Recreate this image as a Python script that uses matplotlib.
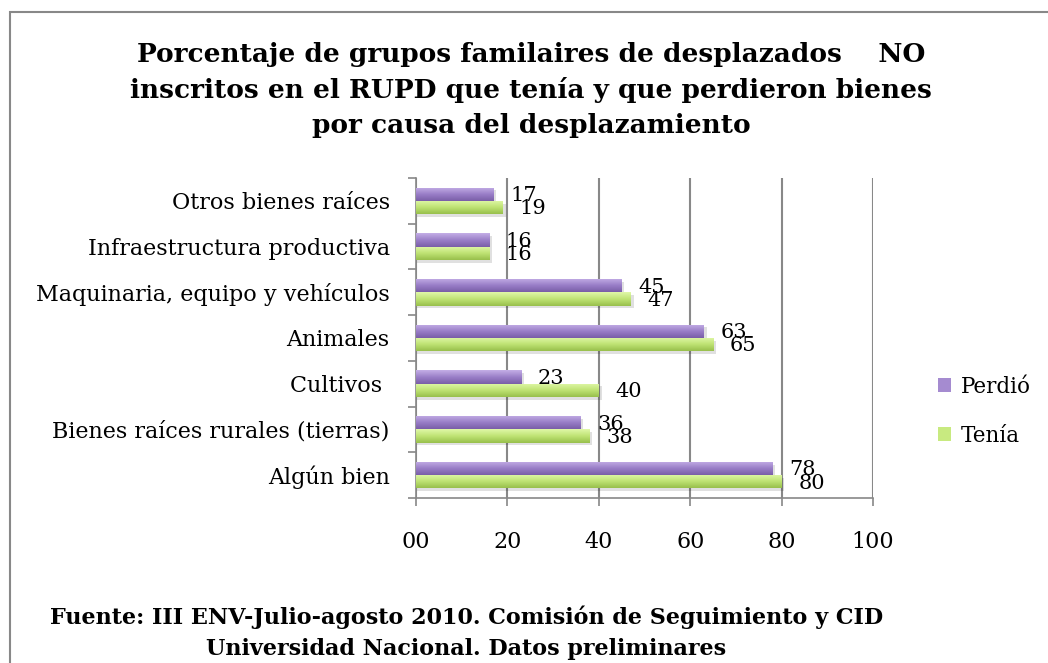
import numpy as np
import matplotlib
matplotlib.use("Agg")
from matplotlib import pyplot as plt
from matplotlib.colors import LinearSegmentedColormap
from matplotlib.patches import Rectangle

# data
categorias = ['Otros bienes raíces', 'Infraestructura productiva',
              'Maquinaria, equipo y vehículos', 'Animales', 'Cultivos ',
              'Bienes raíces rurales (tierras)', 'Algún bien']
perdio = [17, 16, 45, 63, 23, 36, 78]
tenia = [19, 16, 47, 65, 40, 38, 80]
xticks = [0, 20, 40, 60, 80, 100]
xtick_labels = ['00', '20', '40', '60', '80', '100']

titulo = ('Porcentaje de grupos familaires de desplazados    NO\n'
          'inscritos en el RUPD que tenía y que perdieron bienes\n'
          'por causa del desplazamiento')
fuente = ('Fuente: III ENV-Julio-agosto 2010. Comisión de Seguimiento y CID\n'
          'Universidad Nacional. Datos preliminares')

plt.rcParams['font.family'] = ['DejaVu Serif']

cm_perdio = LinearSegmentedColormap.from_list('p', ['#c4aee6', '#9a7fc8', '#7a5ea8'])
cm_tenia = LinearSegmentedColormap.from_list('t', ['#e0f8a8', '#bfe374', '#98c04c'])

fig = plt.figure(figsize=(10.48, 6.63), dpi=100)
ax = fig.add_axes([0.397, 0.249, 0.436, 0.4825])

y = np.arange(len(categorias))
h = 0.29
off = 0.145
grad = np.linspace(0, 1, 50).reshape(-1, 1)


def barras(vals, yc, cmap, color):
    for v, c in zip(vals, yc):
        # shadow
        ax.add_patch(Rectangle((0, c - h / 2 + 0.06), v + 0.6, h, color='#000000',
                               alpha=0.12, lw=0, zorder=2))
        r = Rectangle((0, c - h / 2), v, h, facecolor=color, lw=0, zorder=3)
        ax.add_patch(r)
        im = ax.imshow(grad, cmap=cmap, aspect='auto',
                       extent=(0, v, c + h / 2, c - h / 2), zorder=3.5)
        im.set_clip_path(r)


barras(perdio, y - off, cm_perdio, '#9a7fc8')
barras(tenia, y + off, cm_tenia, '#bfe374')

for v, c in zip(perdio, y - off):
    ax.annotate(str(v), (v, c), xytext=(12, -1), textcoords='offset points',
                ha='left', va='center', fontsize=15, zorder=5)
for v, c in zip(tenia, y + off):
    ax.annotate(str(v), (v, c), xytext=(12, -1), textcoords='offset points',
                ha='left', va='center', fontsize=15, zorder=5)

ax.set_xlim(0, 100)
ax.set_ylim(len(categorias) - 0.5, -0.5)
ax.set_xticks(xticks)
ax.set_xticklabels(xtick_labels, fontsize=16)
ax.set_yticks(y)
ax.set_yticklabels(categorias, fontsize=16)
ax.set_yticks(np.arange(len(categorias) + 1) - 0.5, minor=True)
ax.tick_params(axis='y', which='major', length=0, pad=19)
ax.tick_params(axis='y', which='minor', length=6, color='#888888', width=1.2)
ax.tick_params(axis='x', length=6, color='#888888', width=1.2, pad=18)
ax.grid(axis='x', color='#888888', lw=1.5, zorder=1)
ax.set_axisbelow(True)
for s in ['top', 'right']:
    ax.spines[s].set_visible(False)
ax.spines['left'].set_color('#888888')
ax.spines['bottom'].set_color('#888888')
ax.spines['left'].set_linewidth(1.2)
ax.spines['bottom'].set_linewidth(1.2)

# legend
hp = Rectangle((0, 0), 1, 1, facecolor='#a58bd0')
ht = Rectangle((0, 0), 1, 1, facecolor='#c8ea80')
fig.legend([hp, ht], ['Perdió', 'Tenía'], loc='center left',
           bbox_to_anchor=(0.877, 0.38), frameon=False, fontsize=15.5,
           handlelength=0.6, handleheight=0.6, handletextpad=0.45, labelspacing=1.25)

fig.text(0.507, 0.864, titulo, ha='center', va='center', fontsize=19,
         fontweight='bold', linespacing=1.5)
fig.text(0.445, 0.046, fuente, ha='center', va='center', fontsize=16,
         fontweight='bold', linespacing=1.55)

# outer frame of the chart area
fig.patches.append(Rectangle((10 / 1048, -0.05), 1.1, 1 - 12 / 663 + 0.05,
                             transform=fig.transFigure, fill=False,
                             edgecolor='#888888', lw=1.5))

fig.savefig('out.png', dpi=100)
